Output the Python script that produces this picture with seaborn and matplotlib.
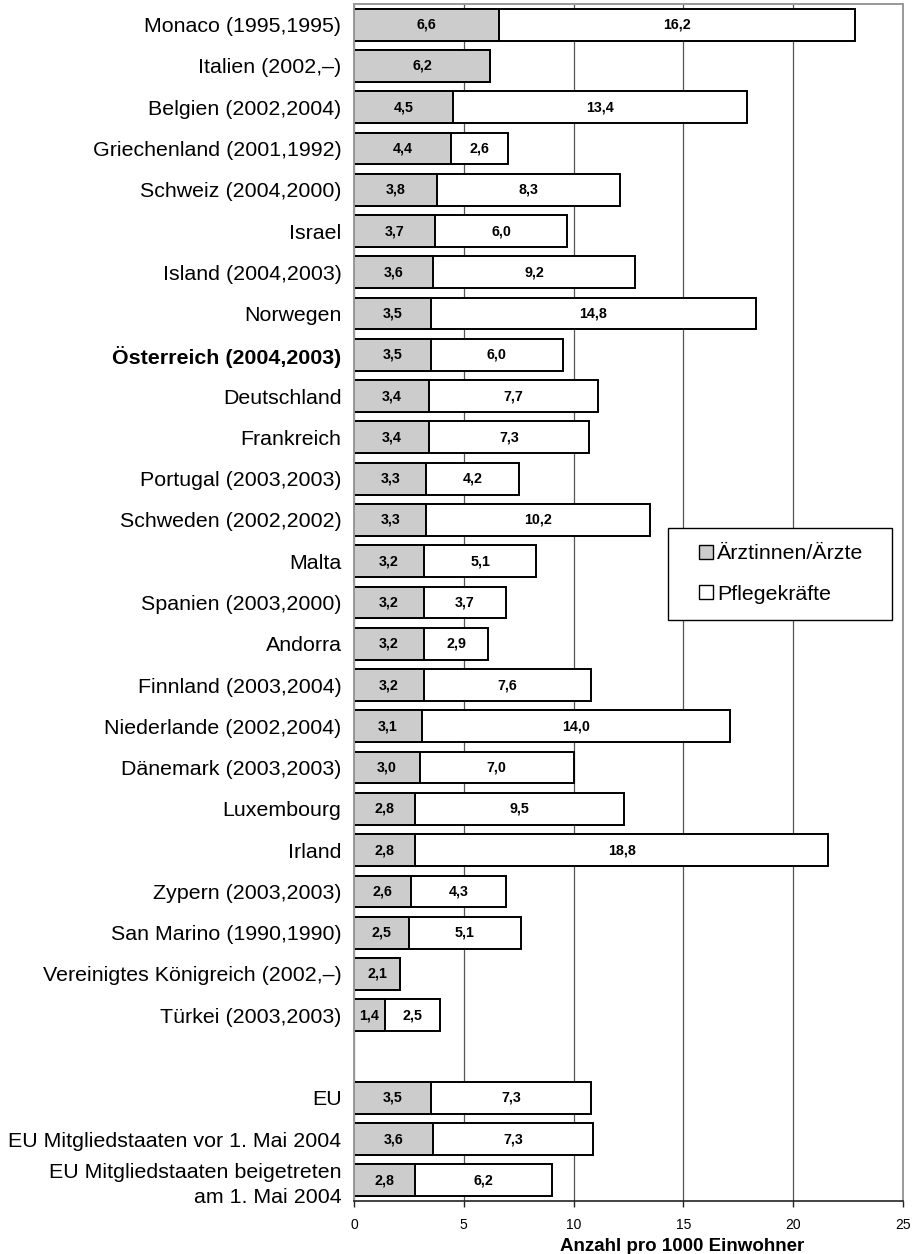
import numpy as np
import pandas as pd
import seaborn as sns
import matplotlib.pyplot as plt
from matplotlib.patches import Patch, Rectangle

# Data: Ärztinnen/Ärzte und Pflegekräfte pro 1000 Einwohner
laender = ['Monaco (1995,1995)', 'Italien (2002,–)', 'Belgien (2002,2004)',
           'Griechenland (2001,1992)', 'Schweiz (2004,2000)', 'Israel',
           'Island (2004,2003)', 'Norwegen', 'Österreich (2004,2003)',
           'Deutschland', 'Frankreich', 'Portugal (2003,2003)',
           'Schweden (2002,2002)', 'Malta', 'Spanien (2003,2000)', 'Andorra',
           'Finnland (2003,2004)', 'Niederlande (2002,2004)',
           'Dänemark (2003,2003)', 'Luxembourg', 'Irland',
           'Zypern (2003,2003)', 'San Marino (1990,1990)',
           'Vereinigtes Königreich (2002,–)', 'Türkei (2003,2003)',
           ' ', 'EU', 'EU Mitgliedstaaten vor 1. Mai 2004',
           'EU Mitgliedstaaten beigetreten\nam 1. Mai 2004']
aerzte = [6.6, 6.2, 4.5, 4.4, 3.8, 3.7, 3.6, 3.5, 3.5, 3.4, 3.4, 3.3, 3.3,
          3.2, 3.2, 3.2, 3.2, 3.1, 3.0, 2.8, 2.8, 2.6, 2.5, 2.1, 1.4,
          np.nan, 3.5, 3.6, 2.8]
pflege = [16.2, np.nan, 13.4, 2.6, 8.3, 6.0, 9.2, 14.8, 6.0, 7.7, 7.3, 4.2,
          10.2, 5.1, 3.7, 2.9, 7.6, 14.0, 7.0, 9.5, 18.8, 4.3, 5.1, np.nan,
          2.5, np.nan, 7.3, 7.3, 6.2]
x_ticks = [0, 5, 10, 15, 20, 25]

df = pd.DataFrame({'Land': laender, 'Aerzte': aerzte, 'Pflege': pflege})
df['Gesamt'] = df['Aerzte'] + df['Pflege'].fillna(0)

GRAU = '#cccccc'

sns.set_theme(style='white')
plt.rcParams['font.family'] = ['Liberation Sans', 'DejaVu Sans']
plt.rcParams['text.color'] = 'black'
plt.rcParams['axes.labelcolor'] = 'black'
plt.rcParams['xtick.color'] = 'black'
plt.rcParams['ytick.color'] = 'black'

fig = plt.figure(figsize=(9.14, 12.54), dpi=100)
ax = fig.add_axes([0.3873, 0.0423, 0.6007, 0.9545])

# white (nursing) bar drawn as total, physicians on top
sns.barplot(data=df, x='Gesamt', y='Land', order=laender, orient='h',
            color='white', saturation=1, edgecolor='black', linewidth=1.4,
            width=0.77, errorbar=None, ax=ax)
sns.barplot(data=df, x='Aerzte', y='Land', order=laender, orient='h',
            color=GRAU, saturation=1, edgecolor='black', linewidth=1.4,
            width=0.77, errorbar=None, ax=ax)

def fmt(v):
    return f'{v:.1f}'.replace('.', ',')

for i, row in df.iterrows():
    if not np.isnan(row['Aerzte']):
        ax.text(row['Aerzte'] / 2, i, fmt(row['Aerzte']), ha='center',
                va='center', fontsize=10.3, fontweight='bold', color='black',
                zorder=6)
    if not np.isnan(row['Pflege']):
        ax.text(row['Aerzte'] + row['Pflege'] / 2, i, fmt(row['Pflege']),
                ha='center', va='center', fontsize=10.3, fontweight='bold',
                color='black', zorder=6)

ax.set_xlim(0, 25)
ax.set_xticks(x_ticks)
ax.set_xticklabels([str(t) for t in x_ticks], fontsize=10)
ax.tick_params(axis='x', direction='out', length=4, width=1, color='#222222',
               pad=8, bottom=True)
ax.tick_params(axis='y', length=0, pad=9, labelsize=15.4)
ax.set_ylabel('')
ax.set_xlabel('Anzahl pro 1000 Einwohner', fontsize=13.5, fontweight='bold')
ax.xaxis.set_label_coords(0.597, -0.031)

for lab in ax.get_yticklabels():
    lab.set_color('black')
    if lab.get_text().startswith('Österreich'):
        lab.set_fontweight('bold')
    if '\n' in lab.get_text():
        lab.set_linespacing(1.35)
for lab in ax.get_xticklabels():
    lab.set_color('black')

ax.set_axisbelow(True)
ax.xaxis.grid(True, color='#555555', linewidth=0.9)
ax.yaxis.grid(False)

for side in ['left', 'top', 'right']:
    ax.spines[side].set_color('#999999')
    ax.spines[side].set_linewidth(1.4)
ax.spines['bottom'].set_color('#222222')
ax.spines['bottom'].set_linewidth(1.2)

# legend with its own frame
ax.add_patch(Rectangle((0.572, 0.4854), 0.408, 0.0768, transform=ax.transAxes,
                       facecolor='white', edgecolor='black', linewidth=1.0,
                       zorder=5))
handles = [Patch(facecolor=GRAU, edgecolor='black', linewidth=1.0),
           Patch(facecolor='white', edgecolor='black', linewidth=1.0)]
leg = ax.legend(handles, ['Ärztinnen/Ärzte', 'Pflegekräfte'], loc='center',
                bbox_to_anchor=(0.778, 0.5238), frameon=False, fontsize=15.4,
                handlelength=0.65, handleheight=0.65, handletextpad=0.2,
                labelspacing=1.0, borderpad=0)
for t in leg.get_texts():
    t.set_color('black')
leg.set_zorder(6)

fig.savefig('out.png', dpi=100)
